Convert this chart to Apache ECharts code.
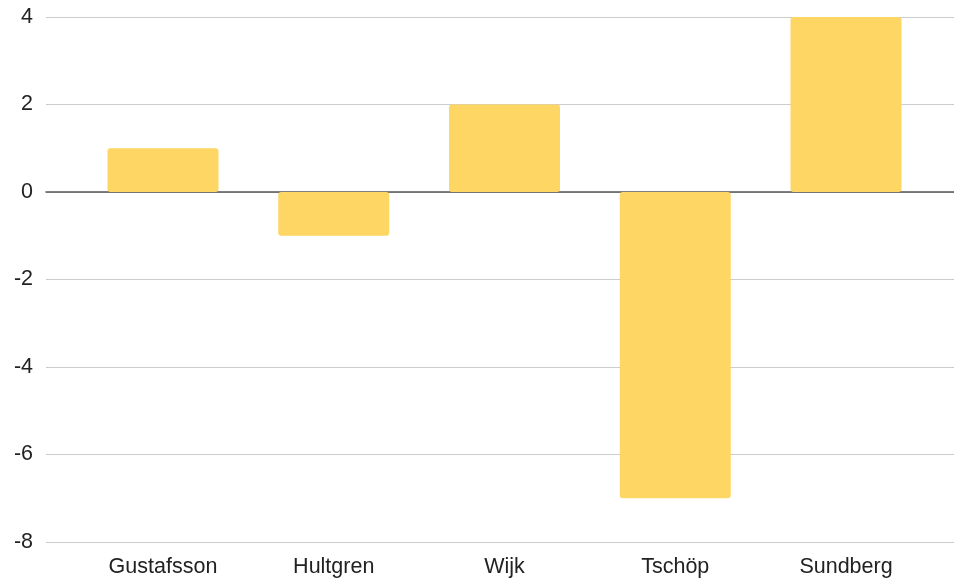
<!DOCTYPE html>
<html>
<head>
<meta charset="utf-8">
<script src="https://cdn.jsdelivr.net/npm/echarts@6/dist/echarts.min.js"></script>
<style>
  html, body { margin: 0; padding: 0; background: #fff; }
  #chart { width: 954px; height: 578px; }
</style>
</head>
<body>
<div id="chart"></div>
<script>
// Per-person score differences
const names = ['Gustafsson', 'Hultgren', 'Wijk', 'Tschöp', 'Sundberg'];
const values = [1, -1, 2, -7, 4];
const yTicks = [-8, -6, -4, -2, 0, 2, 4];

const yMin = yTicks[0];
const yMax = yTicks[yTicks.length - 1];
const yStep = yTicks[1] - yTicks[0];

const chart = echarts.init(document.getElementById('chart'), null, { renderer: 'canvas' });

const fontFamily = 'Liberation Sans, Arial, sans-serif';

chart.setOption({
  animation: false,
  backgroundColor: '#ffffff',
  grid: [
    // full-width grid carrying the value axis, gridlines and the baseline
    { left: 46, right: 0, top: 17, bottom: 36 },
    // inner grid where the bars and category labels sit
    { left: 77.6, right: 22.6, top: 17, bottom: 36 }
  ],
  xAxis: [
    {
      gridIndex: 0,
      type: 'category',
      data: names,
      axisLine: { show: true, onZero: true, lineStyle: { color: '#555555', width: 1.5 } },
      axisTick: { show: false },
      axisLabel: { show: false },
      splitLine: { show: false }
    },
    {
      gridIndex: 1,
      type: 'category',
      data: names,
      axisLine: { show: false },
      axisTick: { show: false },
      axisLabel: {
        show: true,
        margin: 14,
        color: '#222222',
        fontSize: 21.5,
        fontFamily: fontFamily
      }
    }
  ],
  yAxis: [
    {
      gridIndex: 0,
      type: 'value',
      min: yMin,
      max: yMax,
      interval: yStep,
      axisLine: { show: false },
      axisTick: { show: false },
      axisLabel: {
        margin: 13,
        color: '#222222',
        fontSize: 21.5,
        fontFamily: fontFamily,
        padding: [4, 0, 0, 0]
      },
      splitLine: { show: true, lineStyle: { color: '#cccccc', width: 1 } }
    },
    {
      gridIndex: 1,
      type: 'value',
      min: yMin,
      max: yMax,
      interval: yStep,
      axisLine: { show: false },
      axisTick: { show: false },
      axisLabel: { show: false },
      splitLine: { show: false }
    }
  ],
  series: [
    {
      type: 'bar',
      xAxisIndex: 1,
      yAxisIndex: 1,
      data: values,
      barCategoryGap: '35%',
      itemStyle: { color: '#fdd663', borderRadius: 3 },
      z: 3
    }
  ]
});
</script>
</body>
</html>
